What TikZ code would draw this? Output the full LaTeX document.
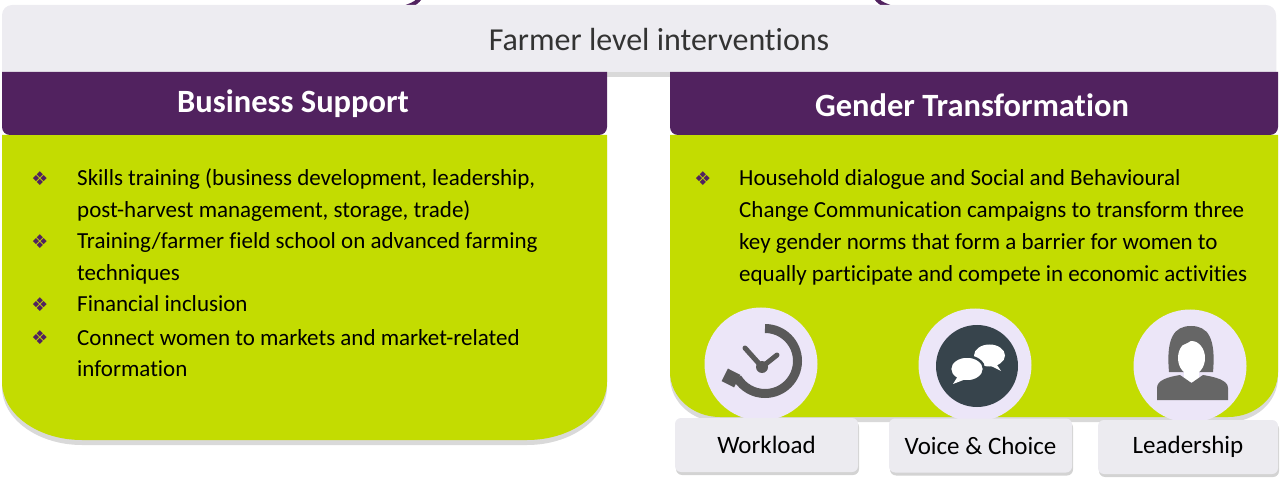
\documentclass[tikz,border=0pt]{standalone}
\usepackage{fontspec}
\setmainfont[Ligatures=NoCommon]{Carlito}
\newfontfamily\symfont{DejaVu Sans}
\usetikzlibrary{positioning,shadows}
\definecolor{barbg}{HTML}{EDECF1}
\definecolor{hdrpurple}{HTML}{51225F}
\definecolor{bodygreen}{HTML}{C3DC01}
\definecolor{normbg}{HTML}{ECE6F8}
\definecolor{labelbg}{HTML}{ECEBF0}
\definecolor{icongray}{HTML}{595959}
\definecolor{hairgray}{HTML}{666666}
\definecolor{bubbledark}{HTML}{37444C}
\definecolor{titlegray}{HTML}{333333}
\begin{document}
\begin{tikzpicture}[x=1pt,y=-1pt,
  hdrtext/.style={text=white,font=\fontsize{32.5}{32.5}\selectfont\bfseries},
  itemtext/.style={anchor=base west,align=left,inner sep=0pt,text=black,font=\fontsize{23}{31.5}\selectfont},
  bulletmark/.style={inner sep=0pt,text=hdrpurple,font=\symfont\fontsize{19}{19}\selectfont},
  normcircle/.style={circle,fill=normbg,minimum size=113pt,inner sep=0pt},
  normlabel/.style={rounded corners=6pt,fill=labelbg,minimum width=183pt,minimum height=54pt,
    drop shadow={shadow xshift=1pt,shadow yshift=-3pt,opacity=0.35},
    text=black,font=\fontsize{25}{25}\selectfont},
  panelshadow/.style={drop shadow={shadow xshift=0pt,shadow yshift=-5pt,opacity=0.3}}
]
\useasboundingbox (0,0) rectangle (1280,478);
% ends of the bracket above
\draw[hdrpurple,line width=4pt] (421,-3) .. controls (416,3) .. (406,7);
\draw[hdrpurple,line width=4pt] (875,-3) .. controls (880,3) .. (890,7);
% top bar
\fill[barbg,panelshadow] (2,72) -- (2,15) arc[start angle=180,end angle=270,radius=10]
  -- (1266,5) arc[start angle=270,end angle=360,radius=10] -- (1276,72) -- cycle;
\node[text=titlegray,font=\fontsize{32}{32}\selectfont] (farmer) at (659,40) {Farmer level interventions};
% left panel
\fill[bodygreen,panelshadow] (2,135) -- (607,135) -- (607,382)
  arc[start angle=0,end angle=90,x radius=80,y radius=58] -- (82,440)
  arc[start angle=90,end angle=180,x radius=80,y radius=58] -- cycle;
\fill[hdrpurple] (2,72) -- (607,72) -- (607,127) arc[start angle=0,end angle=90,radius=8]
  -- (10,135) arc[start angle=90,end angle=180,radius=8] -- cycle;
\node[hdrtext] (business) at (293,104) {Business Support};
% right panel
\fill[bodygreen,panelshadow] (670,135) -- (1278,135) -- (1278,372)
  arc[start angle=0,end angle=90,x radius=50,y radius=45] -- (720,417)
  arc[start angle=90,end angle=180,x radius=50,y radius=45] -- cycle;
\fill[hdrpurple] (670,72) -- (1278,72) -- (1278,127) arc[start angle=0,end angle=90,radius=8]
  -- (678,135) arc[start angle=90,end angle=180,radius=8] -- cycle;
\node[hdrtext] (gender) at (972,105) {Gender Transformation};
% business items
\node[bulletmark] (bs1) at (40,179) {❖};
\node[itemtext] (skills) at (77,217.5) {Skills training (business development, leadership,\\post-harvest management, storage, trade)};
\node[bulletmark] (bs2) at (40,242) {❖};
\node[itemtext] (school) at (77,280.5) {Training/farmer field school on advanced farming\\techniques};
\node[bulletmark] (bs3) at (40,305) {❖};
\node[itemtext] (finance) at (77,312) {Financial inclusion};
\node[bulletmark] (bs4) at (40,338) {❖};
\node[itemtext] (markets) at (77,376.5) {Connect women to markets and market-related\\information};
% gender item
\node[bulletmark] (gt1) at (703,179) {❖};
\node[itemtext,font=\fontsize{23}{32}\selectfont] (dialogue) at (739,282) {Household dialogue and Social and Behavioural\\Change Communication campaigns to transform three\\key gender norms that form a barrier for women to\\equally participate and compete in economic activities};
% three norms
\node[normcircle] (workc) at (761,364) {};
\node[normcircle] (voicec) at (975,365) {};
\node[normcircle] (leadc) at (1190,366) {};
% workload icon
\draw[icongray,line width=9pt] (765,328.5) arc[start angle=-90,end angle=148,radius=32.5];
\fill[icongray,rotate around={-27:(731,378)}] (724,371) rectangle (738,385);
\draw[icongray,line width=5pt,line cap=round] (745,348) -- (762,367) -- (777,355);
\fill[icongray] (762,367) circle[radius=6];
% voice icon
\fill[bubbledark] (977,366) circle[radius=41];
\fill[white] (989.5,355.5) ellipse[x radius=15.5,y radius=11];
\fill[white] (995,362) -- (1001,371) -- (989,365) -- cycle;
\filldraw[fill=white,draw=bubbledark,line width=2.5pt] (967,369) ellipse[x radius=17,y radius=12.5];
\fill[white] (958,376) -- (953,384) -- (966,379) -- cycle;
% leadership icon
\fill[hairgray] (1169,372) .. controls (1166,338) and (1174,326) .. (1191,326)
  .. controls (1208,326) and (1216,338) .. (1213,372) -- cycle;
\fill[white] (1191.5,358) ellipse[x radius=13.5,y radius=17];
\fill[hairgray] (1176,347) .. controls (1185,345) and (1192,341) .. (1196,336)
  .. controls (1199,342) and (1204,345) .. (1207,347) -- (1207,332) -- (1176,332) -- cycle;
\fill[white] (1184,366) rectangle (1199,382);
\fill[hairgray] (1157,400) -- (1157,388) .. controls (1157,380) and (1168,377) .. (1180,375)
  -- (1191.5,383) -- (1203,375) .. controls (1215,377) and (1228,380) .. (1228,388)
  -- (1228,400) -- cycle;
% labels
\node[normlabel] (workload) at (766.5,445) {Workload};
\node[normlabel] (voice) at (980.5,445.5) {Voice \& Choice};
\node[normlabel,minimum width=180pt] (leader) at (1188,447) {Leadership};
\end{tikzpicture}
\end{document}
